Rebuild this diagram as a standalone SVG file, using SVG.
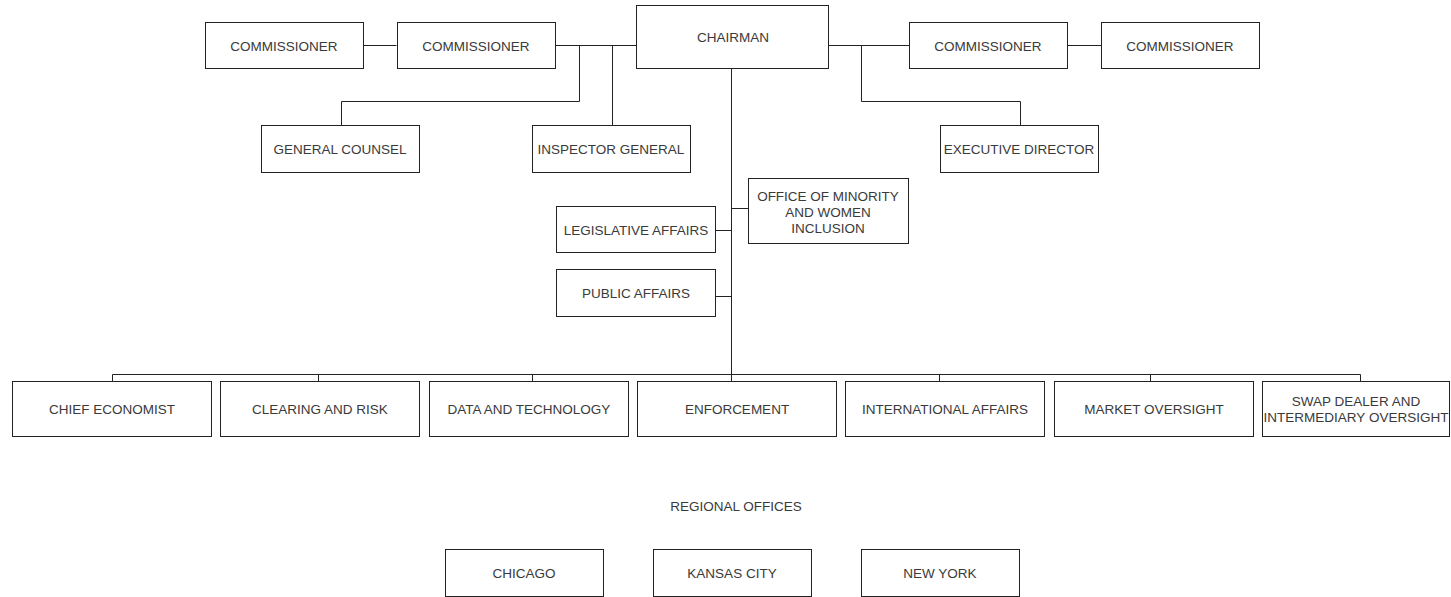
<svg xmlns="http://www.w3.org/2000/svg" width="1451" height="597" viewBox="0 0 1451 597">
<style>
rect{fill:#fff;stroke:#222;stroke-width:1}
text{font-family:"Liberation Sans",Arial,sans-serif;font-size:13.5px;fill:#3a3a3a;text-anchor:middle}
#connectors path{fill:none;stroke:#222;stroke-width:1}
</style>
<rect x="0" y="0" width="1451" height="597" style="stroke:none"/>
<g id="connectors">
<path d="M363.5 45.5H396.5M555.5 45.5H636.5M579.5 45.5V101.5H341.5V125M612.5 45.5V125"/>
<path d="M829 45.5H909M1068 45.5H1101M861.5 45.5V101.5H1020.5V125"/>
<path d="M731.5 68V381M748 208.5H731.5M715 230.5H731.5M715 296.5H731.5"/>
<path d="M112.5 374.5H1360.5M112.5 374.5V381M318.5 374.5V381M532.5 374.5V381M939.5 374.5V381M1150.5 374.5V381M1360.5 374.5V381"/>
</g>
<g id="commissioner1"><rect x="205.5" y="22.5" width="158" height="46"/><text x="284" y="50.5">COMMISSIONER</text></g>
<g id="commissioner2"><rect x="397.5" y="22.5" width="158" height="46"/><text x="476" y="50.5">COMMISSIONER</text></g>
<g id="chairman"><rect x="636.5" y="5.5" width="192" height="63"/><text x="733" y="41.5">CHAIRMAN</text></g>
<g id="commissioner3"><rect x="909.5" y="22.5" width="158" height="46"/><text x="988" y="50.5">COMMISSIONER</text></g>
<g id="commissioner4"><rect x="1101.5" y="22.5" width="158" height="46"/><text x="1180" y="50.5">COMMISSIONER</text></g>
<g id="general-counsel"><rect x="261.5" y="125.5" width="158" height="47"/><text x="340" y="153.5">GENERAL COUNSEL</text></g>
<g id="inspector-general"><rect x="532.5" y="125.5" width="158" height="47"/><text x="611" y="153.5">INSPECTOR GENERAL</text></g>
<g id="executive-director"><rect x="940.5" y="125.5" width="158" height="47"/><text x="1019" y="153.5">EXECUTIVE DIRECTOR</text></g>
<g id="omwi"><rect x="748.5" y="178.5" width="160" height="65"/><text x="828" y="200.5">OFFICE OF MINORITY</text><text x="828" y="216.5">AND WOMEN</text><text x="828" y="232.5">INCLUSION</text></g>
<g id="legislative-affairs"><rect x="556.5" y="206.5" width="159" height="46"/><text x="636" y="234.5">LEGISLATIVE AFFAIRS</text></g>
<g id="public-affairs"><rect x="556.5" y="269.5" width="159" height="47"/><text x="636" y="297.5">PUBLIC AFFAIRS</text></g>
<g id="chief-economist"><rect x="12.5" y="381.5" width="199" height="55"/><text x="112" y="413.5">CHIEF ECONOMIST</text></g>
<g id="clearing-risk"><rect x="220.5" y="381.5" width="199" height="55"/><text x="320" y="413.5">CLEARING AND RISK</text></g>
<g id="data-technology"><rect x="429.5" y="381.5" width="199" height="55"/><text x="529" y="413.5">DATA AND TECHNOLOGY</text></g>
<g id="enforcement"><rect x="637.5" y="381.5" width="199" height="55"/><text x="737" y="413.5">ENFORCEMENT</text></g>
<g id="international-affairs"><rect x="845.5" y="381.5" width="199" height="55"/><text x="945" y="413.5">INTERNATIONAL AFFAIRS</text></g>
<g id="market-oversight"><rect x="1054.5" y="381.5" width="199" height="55"/><text x="1154" y="413.5">MARKET OVERSIGHT</text></g>
<g id="swap-dealer"><rect x="1262.5" y="381.5" width="187" height="55"/><text x="1356" y="405.5">SWAP DEALER AND</text><text x="1356" y="421.5">INTERMEDIARY OVERSIGHT</text></g>
<g id="regional-offices"><text x="736" y="510.5">REGIONAL OFFICES</text></g>
<g id="chicago"><rect x="445.5" y="549.5" width="158" height="47"/><text x="524" y="577.5">CHICAGO</text></g>
<g id="kansas-city"><rect x="653.5" y="549.5" width="158" height="47"/><text x="732" y="577.5">KANSAS CITY</text></g>
<g id="new-york"><rect x="861.5" y="549.5" width="158" height="47"/><text x="940" y="577.5">NEW YORK</text></g>
</svg>
